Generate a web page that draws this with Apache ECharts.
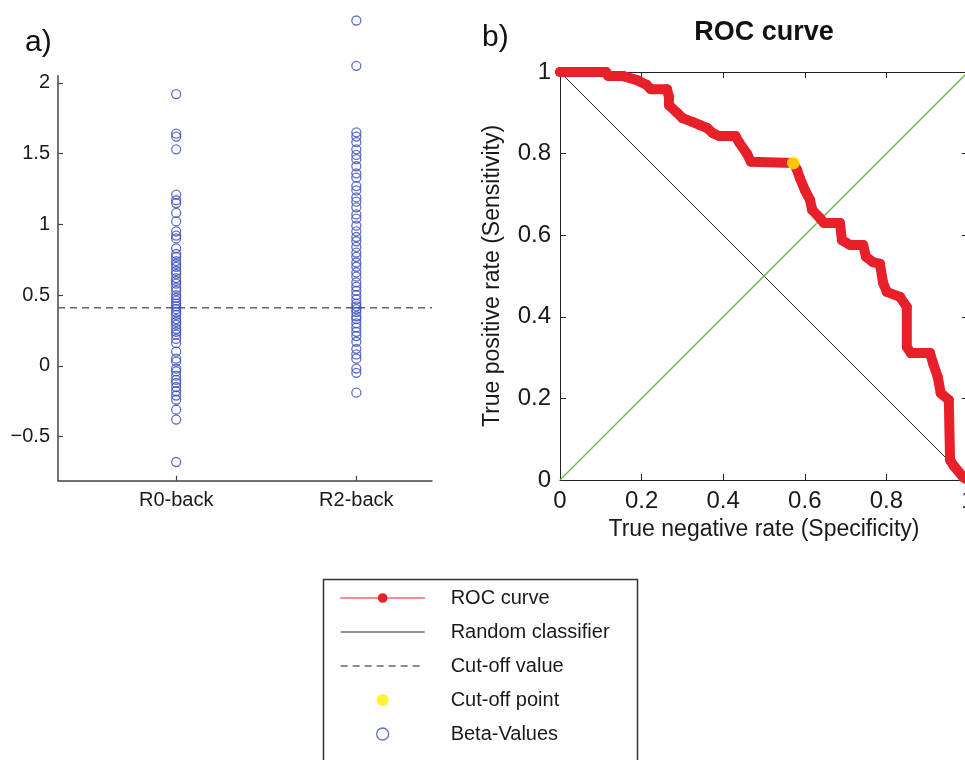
<!DOCTYPE html>
<html><head><meta charset="utf-8">
<script src="https://cdn.jsdelivr.net/npm/echarts@6/dist/echarts.min.js"></script>
<style>html,body{margin:0;padding:0;background:#fff;} #c{width:965px;height:760px;}</style>
</head><body><div id="c"></div>
<script>
// ---- data ----
const groups = ['R0-back', 'R2-back'];
const r0Back = [1.92, 1.64, 1.62, 1.53, 1.21, 1.17, 1.15, 1.08, 1.02, 0.95, 0.92, 0.90, 0.83, 0.79, 0.77, 0.74, 0.72, 0.70, 0.67, 0.65, 0.62, 0.60, 0.58, 0.55, 0.53, 0.50, 0.48, 0.46, 0.44, 0.42, 0.40, 0.38, 0.36, 0.33, 0.31, 0.29, 0.26, 0.24, 0.22, 0.19, 0.16, 0.10, 0.05, 0.03, -0.02, -0.04, -0.07, -0.10, -0.12, -0.15, -0.18, -0.21, -0.24, -0.31, -0.38, -0.68];
const r2Back = [2.44, 2.12, 1.65, 1.62, 1.58, 1.53, 1.49, 1.46, 1.41, 1.36, 1.33, 1.27, 1.24, 1.19, 1.16, 1.12, 1.07, 1.04, 0.99, 0.95, 0.91, 0.88, 0.84, 0.80, 0.77, 0.73, 0.70, 0.66, 0.63, 0.59, 0.56, 0.53, 0.50, 0.47, 0.44, 0.42, 0.40, 0.38, 0.35, 0.33, 0.30, 0.27, 0.24, 0.21, 0.17, 0.12, 0.08, 0.05, -0.02, -0.05, -0.19];
const cutoffValue = 0.41;
const leftTicks = [-0.5, 0, 0.5, 1, 1.5, 2];
const rocSpecificity = [0, 0.113, 0.118, 0.155, 0.189, 0.213, 0.222, 0.262, 0.267, 0.267, 0.287, 0.300, 0.326, 0.343, 0.360, 0.375, 0.390, 0.430, 0.440, 0.458, 0.468, 0.572, 0.581, 0.588, 0.600, 0.613, 0.618, 0.637, 0.647, 0.686, 0.691, 0.711, 0.743, 0.750, 0.767, 0.784, 0.792, 0.801, 0.833, 0.850, 0.850, 0.860, 0.907, 0.914, 0.926, 0.933, 0.953, 0.956, 0.965, 0.988, 1];
const rocSensitivity = [1, 1, 0.990, 0.990, 0.980, 0.968, 0.958, 0.958, 0.939, 0.919, 0.900, 0.887, 0.877, 0.870, 0.863, 0.850, 0.843, 0.843, 0.826, 0.800, 0.780, 0.777, 0.760, 0.740, 0.711, 0.686, 0.662, 0.642, 0.630, 0.630, 0.588, 0.576, 0.576, 0.547, 0.534, 0.530, 0.483, 0.461, 0.449, 0.424, 0.326, 0.311, 0.311, 0.287, 0.252, 0.213, 0.196, 0.049, 0.035, 0.007, 0];
const randomX = [0, 1];
const randomY = [1, 0];
const chanceX = [0, 1];
const chanceY = [0, 1];
const cutoffPoint = [0.572, 0.777];
const rocTicks = [0, 0.2, 0.4, 0.6, 0.8, 1];

// ---- chart ----
const FONT = '"Liberation Sans", Arial, Helvetica, sans-serif';
const LX_MIN = 0.344, LX_MAX = 2.42, LY_MIN = -0.812, LY_MAX = 2.05;
const blue = '#3a4cb6', red = '#e8202a', yellow = '#fff000';
const zip = (a, b) => a.map((v, i) => [v, b[i]]);
const chart = echarts.init(document.getElementById('c'), null, {renderer: 'canvas'});
const txt = {fontFamily: FONT, color: '#1a1a1a'};

const option = {
  animation: false,
  backgroundColor: '#fff',
  textStyle: {fontFamily: FONT},
  grid: [
    {left: 58, top: 75.7, width: 374, height: 405, outerBoundsMode: 'none', containLabel: false},
    {left: 560, top: 72, width: 408, height: 408, outerBoundsMode: 'none', containLabel: false}
  ],
  xAxis: [
    {type: 'value', gridIndex: 0, min: LX_MIN, max: LX_MAX,
     axisLine: {show: true, onZero: false, lineStyle: {color: '#444', width: 1.5}},
     axisTick: {show: true, inside: true, length: 5, customValues: [1, 2], lineStyle: {color: '#444', width: 1.2}},
     axisLabel: {customValues: [1, 2], formatter: v => groups[Math.round(v) - 1], fontSize: 20, margin: 10, ...txt},
     splitLine: {show: false}},
    {type: 'value', gridIndex: 1, min: 0, max: 1, interval: 0.2, position: 'bottom',
     axisLine: {show: true, onZero: false, lineStyle: {color: '#222', width: 1}},
     axisTick: {show: true, inside: true, length: 6, lineStyle: {color: '#222'}},
     axisLabel: {fontSize: 24, margin: 9, ...txt},
     splitLine: {show: false},
     name: 'True negative rate (Specificity)', nameLocation: 'middle', nameGap: 38,
     nameTextStyle: {fontSize: 23, ...txt}},
    {type: 'value', gridIndex: 1, min: 0, max: 1, interval: 0.2, position: 'top',
     axisLine: {show: true, onZero: false, lineStyle: {color: '#222', width: 1}},
     axisTick: {show: true, inside: true, length: 6, lineStyle: {color: '#222'}},
     axisLabel: {show: false}, splitLine: {show: false}}
  ],
  yAxis: [
    {type: 'value', gridIndex: 0, min: LY_MIN, max: LY_MAX,
     axisLine: {show: true, onZero: false, lineStyle: {color: '#444', width: 1.5}},
     axisTick: {show: true, inside: true, length: 5, customValues: leftTicks, lineStyle: {color: '#444', width: 1.2}},
     axisLabel: {customValues: leftTicks, formatter: v => String(v).replace('-', '\u2212'), fontSize: 20, margin: 8, ...txt},
     splitLine: {show: false}},
    {type: 'value', gridIndex: 1, min: 0, max: 1, interval: 0.2, position: 'left',
     axisLine: {show: true, onZero: false, lineStyle: {color: '#222', width: 1}},
     axisTick: {show: true, inside: true, length: 6, lineStyle: {color: '#222'}},
     axisLabel: {fontSize: 24, margin: 9, ...txt},
     splitLine: {show: false},
     name: 'True positive rate (Sensitivity)', nameLocation: 'middle', nameGap: 56, nameRotate: 90,
     nameTextStyle: {fontSize: 23, ...txt}},
    {type: 'value', gridIndex: 1, min: 0, max: 1, interval: 0.2, position: 'right',
     axisLine: {show: true, onZero: false, lineStyle: {color: '#222', width: 1}},
     axisTick: {show: true, inside: true, length: 6, lineStyle: {color: '#222'}},
     axisLabel: {show: false}, splitLine: {show: false}}
  ],
  graphic: [
    {type: 'text', left: 25, top: 28, style: {text: 'a)', font: '30px ' + FONT, fill: '#111'}},
    {type: 'text', left: 482, top: 23, style: {text: 'b)', font: '30px ' + FONT, fill: '#111'}},
    {type: 'text', x: 764, y: 33, style: {text: 'ROC curve', font: 'bold 27px ' + FONT, fill: '#111', align: 'center', verticalAlign: 'middle'}},
    {type: 'rect', z: -1, shape: {x: 323.5, y: 579.5, width: 314, height: 220}, style: {fill: '#fff', stroke: '#333', lineWidth: 1.5}}
  ],
  legend: {
    orient: 'vertical', left: 340, top: 588, padding: 0,
    itemWidth: 84, itemHeight: 12, itemGap: 14, selectedMode: false,
    textStyle: {fontSize: 20, lineHeight: 20, fontFamily: FONT, color: '#1a1a1a', padding: [0, 0, 0, 21]},
    data: [
      {name: 'ROC curve', lineStyle: {width: 1.2, color: red}, itemStyle: {color: red}},
      {name: 'Random classifier', lineStyle: {width: 1.2, color: '#222'}, itemStyle: {color: 'rgba(0,0,0,0)', borderWidth: 0, opacity: 0}},
      {name: 'Cut-off value', lineStyle: {width: 1.3}, itemStyle: {color: 'rgba(0,0,0,0)', borderWidth: 0, opacity: 0}},
      {name: 'Cut-off point', itemStyle: {color: yellow}},
      {name: 'Beta-Values', itemStyle: {color: 'rgba(0,0,0,0)', borderColor: blue, borderWidth: 1.3}}
    ]
  },
  series: [
    {name: 'Random classifier', type: 'line', xAxisIndex: 1, yAxisIndex: 1, data: zip(randomX, randomY),
     symbol: 'none', lineStyle: {color: '#222', width: 1}, z: 2},
    {name: 'chance', type: 'line', xAxisIndex: 1, yAxisIndex: 1, data: zip(chanceX, chanceY),
     symbol: 'none', lineStyle: {color: '#66bb44', width: 1.3}, z: 2},
    {name: 'ROC curve', type: 'line', xAxisIndex: 1, yAxisIndex: 1, data: zip(rocSpecificity, rocSensitivity),
     symbol: 'circle', symbolSize: 10, clip: false, itemStyle: {color: red},
     lineStyle: {color: red, width: 10, join: 'round', cap: 'round'}, z: 3},
    {name: 'Cut-off point', type: 'scatter', xAxisIndex: 1, yAxisIndex: 1, data: [cutoffPoint],
     symbol: 'circle', symbolSize: 13, itemStyle: {color: yellow}, z: 5},
    {name: 'Cut-off value', type: 'line', xAxisIndex: 0, yAxisIndex: 0,
     data: [[LX_MIN, cutoffValue], [LX_MAX, cutoffValue]], symbol: 'none',
     lineStyle: {color: '#666', width: 1.5, type: [7, 5]}, z: 2},
    {name: 'Beta-Values', type: 'scatter', xAxisIndex: 0, yAxisIndex: 0, clip: false,
     data: r0Back.map(v => [1, v]).concat(r2Back.map(v => [2, v])),
     symbol: 'circle', symbolSize: 9,
     itemStyle: {color: 'rgba(0,0,0,0)', borderColor: blue, borderWidth: 1.3}, z: 3}
  ]
};
chart.setOption(option);
</script></body></html>
